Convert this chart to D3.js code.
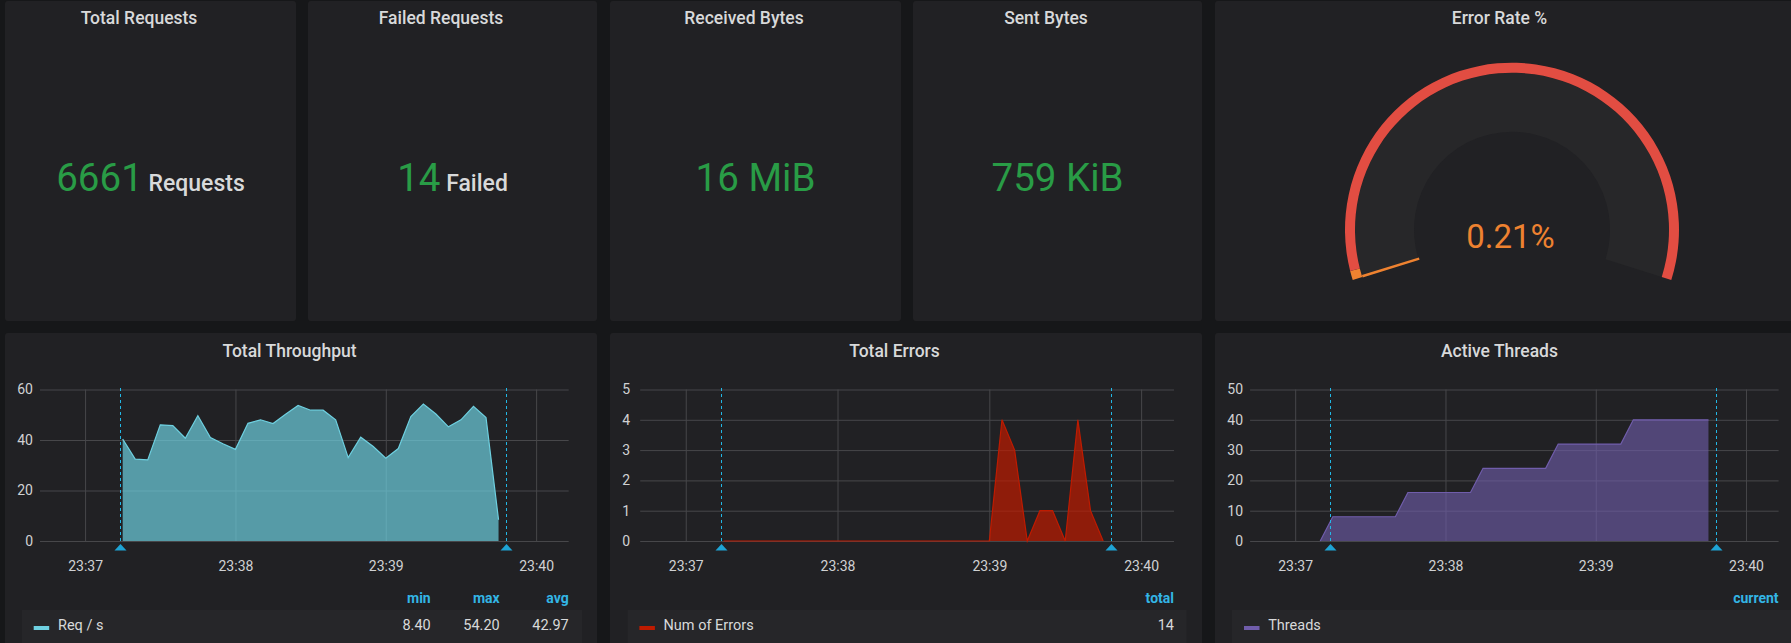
<!DOCTYPE html>
<html><head><meta charset="utf-8">
<script src="https://cdn.jsdelivr.net/npm/d3@7"></script>
<style>
html,body{margin:0;padding:0;background:#161719;overflow:hidden}
svg{display:block;font-family:Roboto,"Noto Sans",sans-serif}
</style>
</head><body>
<svg id="c" width="1791" height="643"></svg>
<script>
// ---------------- DATA ----------------
const statTitles = ["Total Requests", "Failed Requests", "Received Bytes", "Sent Bytes"];
const statValues = ["6661", "14", "16 MiB", "759 KiB"];
const statUnits  = ["Requests", "Failed", "", ""];

const gaugeTitle = "Error Rate %";
const gaugeValue = 0.21;
const gaugeRange = [0, 100];
const gaugeThresholds = [0, 1.5, 100];          // orange segment, red segment
const gaugeLabel = "0.21%";

const timeRange = ["23:36:42", "23:40:13"];
const timeTicks = ["23:37", "23:38", "23:39", "23:40"];
const annotationTimes = ["23:37:14", "23:39:48"];

const sampleTimes = ["23:37:15","23:37:20","23:37:25","23:37:30","23:37:35","23:37:40","23:37:45","23:37:50","23:37:55",
  "23:38:00","23:38:05","23:38:10","23:38:15","23:38:20","23:38:25","23:38:30","23:38:35","23:38:40","23:38:45","23:38:50","23:38:55",
  "23:39:00","23:39:05","23:39:10","23:39:15","23:39:20","23:39:25","23:39:30","23:39:35","23:39:40","23:39:45"];
const throughputValues = [40.4, 32.4, 32.1, 46.0, 45.7, 40.7, 49.6, 41.0, 38.5, 36.3,
  46.6, 48.0, 46.5, 50.2, 53.7, 51.8, 51.8, 48.0, 33.0, 41.1,
  37.4, 32.8, 36.6, 49.3, 54.2, 50.3, 45.2, 48.0, 53.3, 48.9, 8.4];
const errorValues = [0,0,0,0,0,0,0,0,0,0, 0,0,0,0,0,0,0,0,0,0, 0,0,4,3,0,1,1,0,4,1,0];
const threadTimes = ["23:37:10"].concat(sampleTimes);
const threadValues = [0, 8,8,8,8,8,8, 16,16,16,16,16,16, 24,24,24,24,24,24, 32,32,32,32,32,32, 40,40,40,40,40,40,40];

const throughputTicks = [0, 20, 40, 60];
const errorTicks = [0, 1, 2, 3, 4, 5];
const threadTicks = [0, 10, 20, 30, 40, 50];

const chartTitles = ["Total Throughput", "Total Errors", "Active Threads"];
const seriesNames = ["Req / s", "Num of Errors", "Threads"];
const legendHeaders = [["min", "max", "avg"], ["total"], ["current"]];
const legendValues = [["8.40", "54.20", "42.97"], ["14"], [""]];

// ---------------- STYLE / LAYOUT ----------------
const C = {
  panel: "#212124", text: "#d8d9da", green: "#299c46", orange: "#ee8230", red: "#e24d42",
  grid: "#47474a", tick: "#d0d1d3", annot: "#22b8e6", annotTri: "#1ea3d4", legendBg: "#262629", legendHead: "#33b5e5"
};
const svg = d3.select("#c");
const parseT = s => { const p = s.split(":").map(Number); return new Date(2020, 0, 1, p[0], p[1], p[2] || 0); };

function panel(x0, y0, x1, y1) {
  svg.append("rect").attr("x", x0).attr("y", y0).attr("width", x1 - x0).attr("height", y1 - y0)
    .attr("rx", 3).attr("fill", C.panel);
}
function title(txt, cx, y) {
  svg.append("text").attr("x", cx).attr("y", y).attr("text-anchor", "middle")
    .attr("fill", C.text).attr("font-size", 17.5).attr("font-weight", 500).text(txt);
}

// ---- top row stat panels ----
const topPanels = [[5, 296], [308, 597], [610, 901], [913, 1202]];
topPanels.forEach((p, i) => {
  panel(p[0], 1, p[1], 321);
  const cx = (p[0] + p[1]) / 2;
  title(statTitles[i], cx - 11.5, 24);
  const t = svg.append("text").attr("x", cx).attr("y", 191).attr("text-anchor", "middle");
  t.append("tspan").attr("fill", C.green).attr("font-size", 38.5).text(statValues[i]);
  if (statUnits[i]) t.append("tspan").attr("fill", C.text).attr("font-size", 23).attr("font-weight", 500)
    .text(" " + statUnits[i]);
});

// ---- gauge ----
panel(1215, 1, 1807, 321);
title(gaugeTitle, 1511 - 11.5, 24);
{
  const cx = 1512, cy = 229.7;
  const span = 107.5 * Math.PI / 180;
  const ang = d3.scaleLinear().domain(gaugeRange).range([-span, span]);
  const g = svg.append("g").attr("transform", `translate(${cx},${cy})`);
  const arc = d3.arc();
  g.append("path").attr("d", arc({innerRadius: 98, outerRadius: 157, startAngle: ang(gaugeRange[0]), endAngle: ang(gaugeRange[1])}))
    .attr("fill", "#272729");
  const segCols = [C.orange, C.red];
  for (let i = 0; i < gaugeThresholds.length - 1; i++) {
    g.append("path").attr("d", arc({innerRadius: 157, outerRadius: 167, startAngle: ang(gaugeThresholds[i]), endAngle: ang(gaugeThresholds[i + 1])}))
      .attr("fill", segCols[i]);
  }
  g.append("path").attr("d", arc({innerRadius: 98, outerRadius: 156, startAngle: ang(gaugeRange[0]), endAngle: ang(gaugeValue)}))
    .attr("fill", C.orange).attr("stroke", C.orange).attr("stroke-width", 1.6);
  svg.append("text").attr("x", 1510.5).attr("y", 247.5).attr("text-anchor", "middle")
    .attr("fill", C.orange).attr("font-size", 33).text(gaugeLabel);
}

// ---- graphs ----
const graphs = [
  {px: [5, 597], plot: [40, 568.7], yDomain: [0, 60], ticks: throughputTicks, times: sampleTimes, values: throughputValues,
   color: "#6ed0e0", fillOp: 0.7, labelGap: 7, legendBg: [22, 582], swatch: 33.7, nameX: 58},
  {px: [610, 1202], plot: [640.2, 1174], yDomain: [0, 5], ticks: errorTicks, times: sampleTimes, values: errorValues,
   color: "#bf1b00", fillOp: 0.7, labelGap: 10, legendBg: [627.6, 1186.7], swatch: 639.4, nameX: 663.5},
  {px: [1215, 1807], plot: [1250.1, 1778.6], yDomain: [0, 50], ticks: threadTicks, times: threadTimes, values: threadValues,
   color: "#705dab", fillOp: 0.62, labelGap: 7, legendBg: [1232, 1792], swatch: 1244, nameX: 1268.2}
];
const yTop = 389.5, yBot = 541;
graphs.forEach((G, gi) => {
  panel(G.px[0], 333, G.px[1], 700);
  title(chartTitles[gi], (G.px[0] + G.px[1]) / 2 - 11.5, 356.7);
  const x = d3.scaleTime().domain(timeRange.map(parseT)).range(G.plot);
  const y = d3.scaleLinear().domain(G.yDomain).range([yBot, yTop]);
  const plotW = G.plot[1] - G.plot[0], plotH = yBot - yTop;

  // horizontal grid + y labels
  const ya = svg.append("g").attr("transform", `translate(${G.plot[0]},0)`)
    .call(d3.axisLeft(y).tickValues(G.ticks).tickSize(-plotW).tickPadding(G.labelGap).tickFormat(d3.format("d")));
  ya.select(".domain").remove();
  ya.selectAll("line").attr("stroke", C.grid);
  ya.selectAll("text").attr("fill", C.tick).attr("font-size", 14).attr("font-family", "Roboto");

  // vertical grid + x labels
  const xa = svg.append("g").attr("transform", `translate(0,${yBot})`)
    .call(d3.axisBottom(x).tickValues(timeTicks.map(parseT)).tickSize(-plotH).tickPadding(20).tickFormat(d3.timeFormat("%H:%M")));
  xa.select(".domain").remove();
  xa.selectAll("line").attr("stroke", C.grid);
  xa.selectAll("text").attr("fill", C.tick).attr("font-size", 14).attr("font-family", "Roboto");

  const data = G.times.map((t, i) => ({t: parseT(t), v: G.values[i]}));
  svg.append("path").datum(data)
    .attr("d", d3.area().x(d => x(d.t)).y0(y(0)).y1(d => y(d.v)))
    .attr("fill", G.color).attr("fill-opacity", G.fillOp);
  svg.append("path").datum(data)
    .attr("d", d3.line().x(d => x(d.t)).y(d => y(d.v)))
    .attr("fill", "none").attr("stroke", G.color).attr("stroke-width", 1.2);

  // annotations
  annotationTimes.forEach(a => {
    const ax = Math.round(x(parseT(a))) + 0.5;
    svg.append("line").attr("x1", ax).attr("x2", ax).attr("y1", yTop - 1.5).attr("y2", yBot)
      .attr("stroke", C.annot).attr("stroke-dasharray", "3,3").attr("stroke-width", 1);
    svg.append("path").attr("d", `M${ax - 6},550.5L${ax},544L${ax + 6},550.5Z`).attr("fill", C.annotTri);
  });

  // legend
  const hdr = legendHeaders[gi], vals = legendValues[gi];
  hdr.forEach((h, k) => {
    const rx = G.plot[1] - (hdr.length - 1 - k) * 69;
    svg.append("text").attr("x", rx).attr("y", 603).attr("text-anchor", "end")
      .attr("fill", C.legendHead).attr("font-size", 14).attr("font-weight", 700).text(h);
  });
  svg.append("rect").attr("x", G.legendBg[0]).attr("y", 610).attr("width", G.legendBg[1] - G.legendBg[0]).attr("height", 40)
    .attr("fill", C.legendBg);
  svg.append("rect").attr("x", G.swatch).attr("y", 626).attr("width", 15.5).attr("height", 4).attr("fill", G.color);
  svg.append("text").attr("x", G.nameX).attr("y", 630).attr("fill", C.text).attr("font-size", 14.5).text(seriesNames[gi]);
  vals.forEach((v, k) => {
    const rx = G.plot[1] - (vals.length - 1 - k) * 69;
    svg.append("text").attr("x", rx).attr("y", 630).attr("text-anchor", "end")
      .attr("fill", C.text).attr("font-size", 14.5).text(v);
  });
});
</script>
</body></html>
